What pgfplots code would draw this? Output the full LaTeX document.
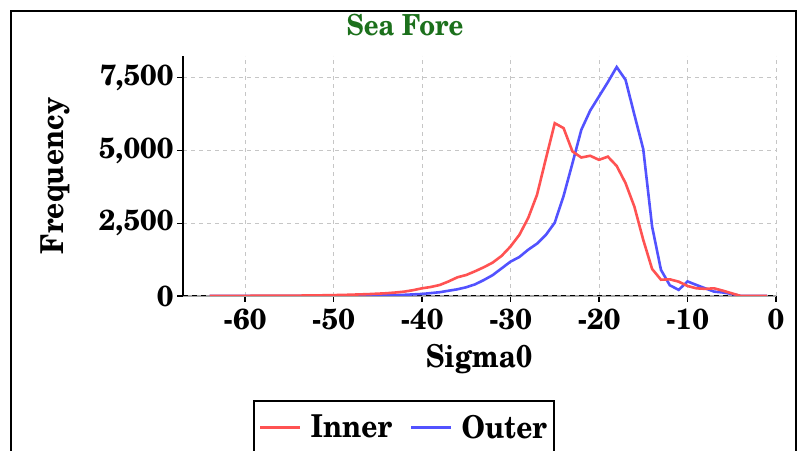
\documentclass[border=0pt]{standalone}
\usepackage{fontspec}
\setmainfont{texgyreschola}[Extension=.otf, UprightFont=*-regular, BoldFont=*-bold, ItalicFont=*-italic, BoldItalicFont=*-bolditalic]
\newfontfamily\condf{texgyreschola}[Extension=.otf, UprightFont=*-bold, FakeStretch=0.89]
\usepackage{pgfplots}
\pgfplotsset{compat=1.18}
\definecolor{cInner}{RGB}{255,82,82}
\definecolor{cOuter}{RGB}{82,82,255}
\definecolor{cTitle}{RGB}{28,112,28}
\newcommand\bigf{\fontsize{31.5bp}{34bp}\condf}
\newcommand\tickf{\fontsize{29bp}{32bp}\selectfont\bfseries}
\newcommand\titlef{\fontsize{29bp}{32bp}\condf}
\begin{document}
\begin{tikzpicture}[x=1bp,y=1bp]
\path[use as bounding box] (0,0) rectangle (803,451);
\begin{axis}[
  at={(183bp,155bp)}, anchor=south west,
  scale only axis, width=593bp, height=240bp,
  xmin=-67, xmax=0, ymin=0, ymax=8250,
  axis lines*=left,
  x axis line style={draw=gray!70, line width=2bp},
  y axis line style={draw=black, line width=1.6bp},
  xtick={-60,-50,-40,-30,-20,-10,0},
  xticklabels={-60,-50,-40,-30,-20,-10,0},
  ytick={0,2500,5000,7500},
  yticklabels={0,{2,500},{5,000},{7,500}},
  tick style={black, line width=1.2bp},
  major tick length=6bp, tick align=outside,
  ticklabel style={font=\tickf},
  xticklabel style={yshift=-3bp},
  grid=major,
  major grid style={draw=gray!45, dash pattern=on 4bp off 4bp, line width=0.9bp},
  legend columns=2,
  legend style={at={(axis description cs:0.118,-0.4333)}, anchor=north west,
    draw=black, line width=2bp, font=\bigf, inner xsep=5bp, inner ysep=12bp,
    /tikz/every even column/.append style={column sep=16bp}},
  legend image code/.code={\draw[#1] (0bp,0bp) -- (40bp,0bp); \path (47bp,0bp);},
]
\addplot[black, dash pattern=on 5bp off 4bp, line width=1.2bp, forget plot] coordinates {(-67,0) (0,0)};
\addplot[cOuter, line width=2.6bp, forget plot] coordinates {
(-64,0) (-63,0) (-62,0) (-61,0) (-60,0) (-59,0) (-58,1) (-57,1) (-56,1) (-55,2)
(-54,2) (-53,3) (-52,3) (-51,4) (-50,5) (-49,6) (-48,8) (-47,10) (-46,12) (-45,15)
(-44,20) (-43,28) (-42,40) (-41,55) (-40,70) (-39,100) (-38,130) (-37,180) (-36,230) (-35,300)
(-34,400) (-33,550) (-32,720) (-31,950) (-30,1180) (-29,1340) (-28,1590) (-27,1800) (-26,2100) (-25,2520)
(-24,3440) (-23,4560) (-22,5710) (-21,6370) (-20,6860) (-19,7350) (-18,7870) (-17,7430) (-16,6230) (-15,5050)
(-14,2390) (-13,900) (-12,370) (-11,210) (-10,500) (-9,380) (-8,264) (-7,150) (-6,120) (-5,70)
(-4,2) (-3,0) (-2,0) (-1,0)};
\addplot[cInner, line width=2.6bp, forget plot] coordinates {
(-64,5) (-63,5) (-62,5) (-61,6) (-60,6) (-59,7) (-58,8) (-57,9) (-56,10) (-55,12)
(-54,14) (-53,17) (-52,20) (-51,25) (-50,30) (-49,36) (-48,45) (-47,55) (-46,65) (-45,80)
(-44,95) (-43,120) (-42,150) (-41,200) (-40,264) (-39,310) (-38,378) (-37,500) (-36,642) (-35,722)
(-34,850) (-33,990) (-32,1150) (-31,1380) (-30,1700) (-29,2100) (-28,2680) (-27,3480) (-26,4720) (-25,5940)
(-24,5770) (-23,4970) (-22,4760) (-21,4820) (-20,4680) (-19,4790) (-18,4470) (-17,3880) (-16,3070) (-15,1930)
(-14,930) (-13,560) (-12,573) (-11,493) (-10,344) (-9,264) (-8,245) (-7,264) (-6,183) (-5,92)
(-4,3) (-3,1) (-2,0) (-1,0)};
\addlegendimage{cInner, line width=2.6bp}
\addlegendentry{Inner}
\addlegendimage{cOuter, line width=2.6bp}
\addlegendentry{Outer}
\end{axis}
\node[font=\titlef, text=cTitle] at (405,426) {Sea Fore};
\node[font=\bigf, rotate=90] at (55,275) {Frequency};
\node[font=\bigf] at (479,91.5) {Sigma0};
\draw[line width=2.5bp] (11,-30) rectangle (796,440);
\end{tikzpicture}
\end{document}
